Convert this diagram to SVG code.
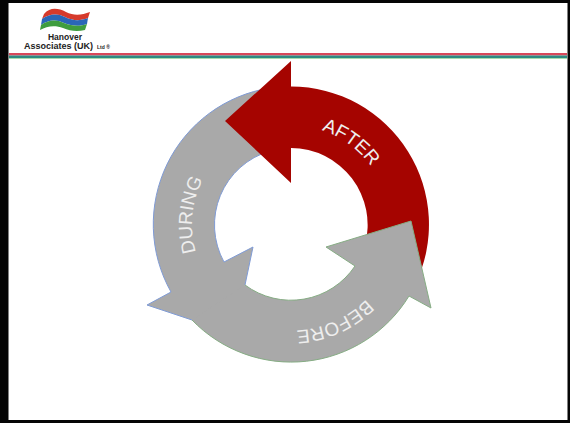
<svg xmlns="http://www.w3.org/2000/svg" width="570" height="423" viewBox="0 0 570 423">
<style>
.logo{font-family:"Liberation Sans",Arial,sans-serif;font-weight:700;fill:#222}
.lbl{font-family:"Liberation Sans",Arial,sans-serif;font-size:19px;fill:#eeeeee;text-anchor:middle}
.gray{fill:#a9a9a9}
.edge{fill:none;stroke-width:1}
</style>
<defs>
<path id="ring" d="M291 323.5A99 99 0 1 1 291.01 323.5"/>
<path id="ringB" d="M397 224.5A106 106 0 1 1 397 224.49"/>
</defs>
<rect id="frame" x="4" y="1.500" width="564" height="420" fill="#fff" stroke="none"/>
<g id="header">
<rect x="9" y="53" width="558" height="2.500" fill="#d8485a"/>
<rect x="9" y="55.500" width="558" height="2.500" fill="#2f8a83"/>
<rect x="9" y="58" width="558" height="1" fill="#a8dcae"/>
</g>
<g id="logo">
<path d="M44 14C50 7 58 8 66 12C74 16 82 15 90 12L88 18C80 21 73 21 65 17C57 13 49 14 42 19Z" fill="#d63a2c"/>
<path d="M42 19C49 14 57 13 65 17C73 21 80 21 88 18L87 24C79 27 72 26 64 23C56 19 48 20 41 25Z" fill="#2a66b8"/>
<path d="M41 25C48 20 56 19 64 23C72 26 79 27 87 24L85 30C77 32 70 31 63 28C55 25 47 26 40 30Z" fill="#3f9d3f"/>
<text class="logo" x="65" y="40" font-size="8.500" text-anchor="middle">Hanover</text>
<text class="logo" x="24" y="49" font-size="9">Associates (UK)</text>
<text class="logo" x="97" y="49" font-size="5">Ltd ®</text>
</g>
<g id="during">
<path class="gray" d="M270 88A138 138 0 0 0 171 292L147 305L192 320L235 334L245 285L253 247L224 262A77 77 0 0 1 270 151L300 120Z"/>
<path class="edge" stroke="#7f9bd6" d="M270 88A138 138 0 0 0 171 292L147 305L192 320M245 285L253 247L224 262A77 77 0 0 1 270 151"/>
<text class="lbl"><textPath href="#ring" startOffset="26.500%">DURING</textPath></text>
</g>
<g id="after">
<path fill="#a50400" d="M291 61L225 121L291 183V148A77 77 0 0 1 365 245L415 285A138 138 0 0 0 291 86.500Z"/>
<text class="lbl"><textPath href="#ring" startOffset="60%">AFTER</textPath></text>
</g>
<g id="before">
<path class="gray" d="M192 320A138 138 0 0 0 409 296L431 308L411 221L326 247L355 266A77 77 0 0 1 245 285Z"/>
<path class="edge" stroke="#86ad84" d="M192 320A138 138 0 0 0 409 296L431 308L411 221L326 247L355 266A77 77 0 0 1 245 285"/>
<text class="lbl"><textPath href="#ringB" startOffset="18.300%">BEFORE</textPath></text>
</g>
<g id="border">
<rect x="0" y="0" width="570" height="3" fill="#050505"/>
<rect x="0" y="0" width="8.500" height="423" fill="#050505"/>
<rect x="567.500" y="0" width="2.500" height="423" fill="#050505"/>
<rect x="0" y="420" width="570" height="3" fill="#050505"/>
</g>
</svg>
